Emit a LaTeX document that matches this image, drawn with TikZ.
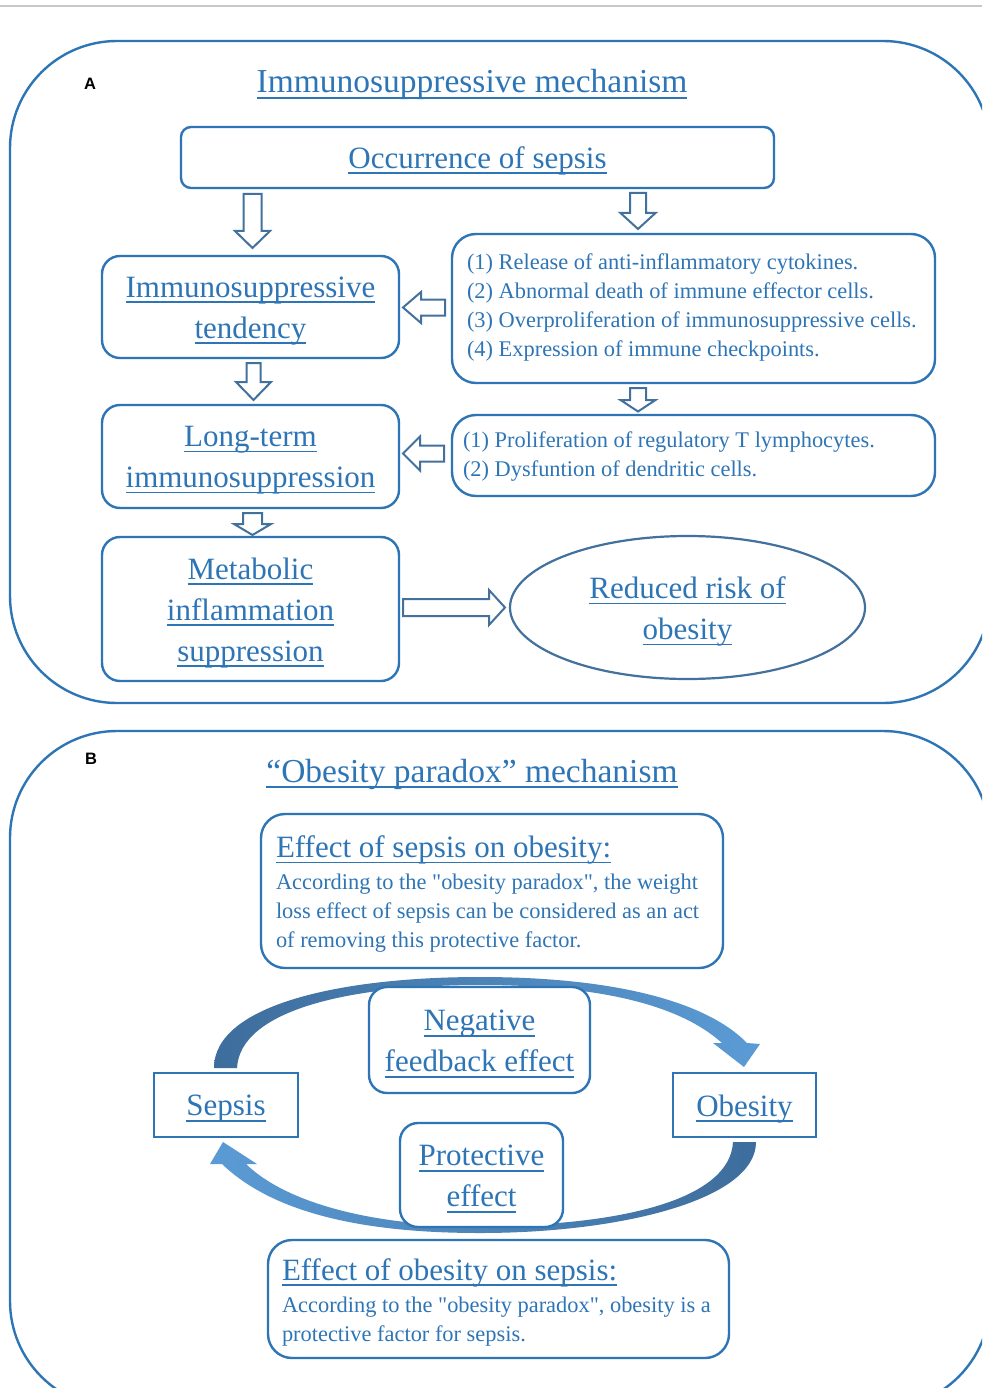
\documentclass[tikz,border=0pt]{standalone}
\usepackage{fontspec}
\setmainfont{Liberation Serif}[Ligatures=TeXOff]
\newfontfamily\labelfont{Liberation Sans}
\usetikzlibrary{shapes.geometric}
\definecolor{tblue}{HTML}{2E75B6}
\definecolor{bblue}{HTML}{2E75B6}
\definecolor{steel}{HTML}{41719C}
\definecolor{lblue}{HTML}{5B9BD5}
\definecolor{dblue}{HTML}{3D6D9C}
\definecolor{rulegray}{HTML}{C8C8C8}
\newcommand\ulx[1]{\setbox0\hbox{#1}\rlap{\rule[-0.18em]{\wd0}{0.05em}}\box0}
% x, ytop, ytip, shaft half, head half, head length
\newcommand\blkdown[6]{\draw[barrow] ({#1-#4},#2) -- ({#1+#4},#2) -- ({#1+#4},{#3-#6}) -- ({#1+#5},{#3-#6}) -- (#1,#3) -- ({#1-#5},{#3-#6}) -- ({#1-#4},{#3-#6}) -- cycle;}
% xtip, y, xtail, shaft half, head half, head length
\newcommand\blkleft[6]{\draw[barrow] (#1,#2) -- ({#1+#6},{#2-#5}) -- ({#1+#6},{#2-#4}) -- (#3,{#2-#4}) -- (#3,{#2+#4}) -- ({#1+#6},{#2+#4}) -- ({#1+#6},{#2+#5}) -- cycle;}
% xtail, y, xtip, shaft half, head half, head length
\newcommand\blkright[6]{\draw[barrow] (#1,{#2-#4}) -- ({#3-#6},{#2-#4}) -- ({#3-#6},{#2-#5}) -- (#3,#2) -- ({#3-#6},{#2+#5}) -- ({#3-#6},{#2+#4}) -- (#1,{#2+#4}) -- cycle;}
\begin{document}
\begin{tikzpicture}[x=1pt,y=-1pt,
  panel/.style={draw=bblue, line width=2.4pt, rounded corners=107pt},
  bigbox/.style={draw=bblue, line width=2.4pt, rounded corners=18pt, fill=white, inner sep=0pt},
  bigtxt/.style={text=tblue, align=center, inner sep=0pt, font=\fontsize{31}{41}\selectfont},
  listbox/.style={draw=bblue, line width=2.4pt, rounded corners=24pt, fill=white, inner sep=0pt},
  listtxt/.style={text=tblue, align=left, inner sep=0pt, anchor=west, font=\fontsize{22.4}{29}\selectfont},
  sqbox/.style={draw=bblue, line width=2pt, fill=white, inner sep=0pt},
  barrow/.style={draw=steel, line width=2pt, fill=white, line join=miter},
  ttl/.style={text=tblue, anchor=base, inner sep=0pt, font=\fontsize{33.5}{40}\selectfont},
  lbl/.style={text=black, inner sep=0pt, font=\labelfont\bfseries\fontsize{16.5}{18}\selectfont}
]
\useasboundingbox (0,0) rectangle (982,1388);
\clip (0,0) rectangle (982,1388);
\fill[white] (0,0) rectangle (982,1388);
\draw[rulegray, line width=1.5pt] (0,6) -- (982,6);

% ---------------- Panel A ----------------
\draw[panel] (10,41) rectangle (990,703);
\node[lbl] (labA) at (90,84) {A};
\node[ttl] (titA) at (472,93) {\ulx{Immunosuppressive mechanism}};

\node[bigbox, rounded corners=10pt, minimum width=593pt, minimum height=61pt] (occ) at (477.5,157.5) {};
\node[bigtxt] (occT) at ([yshift=-3pt]occ.center) {\ulx{Occurrence of sepsis}};
\node[bigbox, minimum width=297pt, minimum height=102pt] (tend) at (250.5,307) {};
\node[bigtxt] (tendT) at ([yshift=-4pt]tend.center) {\ulx{Immunosuppressive}\\\ulx{tendency}};
\node[listbox, minimum width=483pt, minimum height=149pt] (list1) at (693.5,308.5) {};
\node[listtxt] (list1T) at ([xshift=16pt,yshift=1pt]list1.west) {(1) Release of anti-inflammatory cytokines.\\(2) Abnormal death of immune effector cells.\\(3) Overproliferation of immunosuppressive cells.\\(4) Expression of immune checkpoints.};
\node[bigbox, minimum width=297pt, minimum height=103pt] (long) at (250.5,456.5) {};
\node[bigtxt] (longT) at ([yshift=-4pt]long.center) {\ulx{Long-term}\\\ulx{immunosuppression}};
\node[listbox, minimum width=483pt, minimum height=81pt] (list2) at (693.5,455.5) {};
\node[listtxt] (list2T) at ([xshift=12pt,yshift=-1pt]list2.west) {(1) Proliferation of regulatory T lymphocytes.\\(2) Dysfuntion of dendritic cells.};
\node[bigbox, minimum width=297pt, minimum height=144pt] (meta) at (250.5,609) {};
\node[bigtxt] (metaT) at ([yshift=-4pt]meta.center) {\ulx{Metabolic}\\\ulx{inflammation}\\\ulx{suppression}};
\node[ellipse, draw=steel, line width=2.2pt, fill=white, inner sep=0pt, minimum width=355pt, minimum height=143pt] (risk) at (687.5,607.5) {};
\node[bigtxt] (riskT) at ([yshift=-4pt]risk.center) {\ulx{Reduced risk of}\\\ulx{obesity}};

% block arrows
\blkdown{252.5}{194}{248}{9}{17.5}{17}
\blkdown{638}{193}{229}{8}{17.5}{16}
\blkleft{403}{307.5}{445}{8}{15.5}{18}
\blkdown{253.5}{363}{400}{7}{17.5}{18}
\blkdown{638}{388}{411.5}{8}{17.5}{11.5}
\blkleft{403}{453.5}{444}{8}{17}{17}
\blkdown{252.5}{513}{535}{9.5}{18.5}{11}
\blkright{403}{607.5}{505}{8.5}{17.5}{16}

% ---------------- Panel B ----------------
\draw[panel] (10,731) rectangle (990,1408);
\node[lbl] (labB) at (91,759) {B};
\node[ttl] (titB) at (472,782) {\ulx{“Obesity paradox” mechanism}};

% curved arrows
\shade[left color=dblue, right color=lblue]
  (214,1068) .. controls (214,1005) and (340,977) .. (480,977)
  .. controls (610,977) and (705,1000) .. (747,1043)
  -- (760,1044) -- (744,1067) -- (713,1043) -- (722,1043)
  .. controls (680,1005) and (600,985) .. (480,985)
  .. controls (350,985) and (240,1010) .. (237,1068) -- cycle;
\shade[left color=lblue, right color=dblue]
  (756,1142) .. controls (756,1200) and (620,1233) .. (480,1233)
  .. controls (360,1233) and (272,1212) .. (222,1164)
  -- (210,1164) -- (223,1142) -- (257,1164) -- (246,1164)
  .. controls (285,1202) and (370,1226) .. (480,1226)
  .. controls (620,1226) and (730,1200) .. (733,1142) -- cycle;

\node[listbox, minimum width=462pt, minimum height=154pt] (eso) at (492,891) {};
\node[listtxt] (esoT) at ([xshift=16pt,yshift=-3pt]eso.west) {{\fontsize{31}{31}\selectfont\ulx{Effect of sepsis on obesity:}}\\[3pt]According to the "obesity paradox", the weight\\loss effect of sepsis can be considered as an act\\of removing this protective factor.};
\node[bigbox, minimum width=221pt, minimum height=106pt] (neg) at (479.5,1040) {};
\node[bigtxt] (negT) at ([yshift=-4pt]neg.center) {\ulx{Negative}\\\ulx{feedback effect}};
\node[sqbox, minimum width=144pt, minimum height=64pt] (sep) at (226,1105) {};
\node[bigtxt] (sepT) at ([yshift=-4pt]sep.center) {\ulx{Sepsis}};
\node[sqbox, minimum width=143pt, minimum height=64pt] (obe) at (744.5,1105) {};
\node[bigtxt] (obeT) at ([yshift=-4pt]obe.center) {\ulx{Obesity}};
\node[bigbox, minimum width=163pt, minimum height=104pt] (pro) at (481.5,1175) {};
\node[bigtxt] (proT) at ([yshift=-4pt]pro.center) {\ulx{Protective}\\\ulx{effect}};
\node[listbox, minimum width=461pt, minimum height=118pt] (eos) at (498.5,1299) {};
\node[listtxt] (eosT) at ([xshift=15pt,yshift=-3pt]eos.west) {{\fontsize{31}{31}\selectfont\ulx{Effect of obesity on sepsis:}}\\[3pt]According to the "obesity paradox", obesity is a\\protective factor for sepsis.};
\end{tikzpicture}
\end{document}
